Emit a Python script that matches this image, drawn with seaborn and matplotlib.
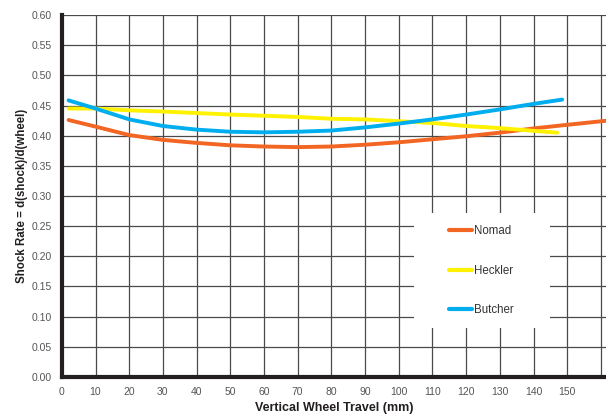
import pandas as pd
import seaborn as sns
import matplotlib.pyplot as plt
from matplotlib.patches import Rectangle

# wheel travel (mm) and shock rate readings, per bike
nomad_x = [2, 10, 20, 30, 40, 50, 60, 70, 80, 90, 100, 110, 120, 130, 140, 150, 162]
nomad_y = [0.426, 0.415, 0.401, 0.393, 0.388, 0.384, 0.382, 0.381, 0.382, 0.385,
           0.389, 0.394, 0.399, 0.405, 0.412, 0.418, 0.425]

heckler_x = [2, 10, 20, 30, 40, 50, 60, 70, 80, 90, 100, 110, 120, 130, 140, 147]
heckler_y = [0.445, 0.445, 0.442, 0.440, 0.4375, 0.435, 0.433, 0.431, 0.428, 0.427,
             0.424, 0.421, 0.416, 0.4125, 0.408, 0.405]

butcher_x = [2, 10, 20, 30, 40, 50, 60, 70, 80, 90, 100, 110, 120, 130, 140, 148.5]
butcher_y = [0.4585, 0.445, 0.427, 0.416, 0.41, 0.4065, 0.4055, 0.4065, 0.4085, 0.4137,
             0.420, 0.427, 0.435, 0.4435, 0.4527, 0.4598]

series = ['Nomad', 'Heckler', 'Butcher']
colors = ['#f26522', '#fff200', '#00aeef']

df = pd.concat([
    pd.DataFrame({'travel': nomad_x, 'rate': nomad_y, 'bike': 'Nomad'}),
    pd.DataFrame({'travel': heckler_x, 'rate': heckler_y, 'bike': 'Heckler'}),
    pd.DataFrame({'travel': butcher_x, 'rate': butcher_y, 'bike': 'Butcher'}),
])

sns.set_style('white')
plt.rcParams['font.family'] = ['Liberation Sans', 'DejaVu Sans']

fig = plt.figure(figsize=(6.06, 4.17), dpi=100)
ax = fig.add_axes([0.102, 0.096, 0.898, 0.868])

sns.lineplot(data=df, x='travel', y='rate', hue='bike', hue_order=series,
             palette=colors, linewidth=2.8, ax=ax, legend=False, zorder=3)

ax.set_xlim(0, 161.5)
ax.set_ylim(0, 0.6)
ax.set_xticks(range(0, 161, 10))
ax.set_xticklabels([str(v) if v <= 150 else '' for v in range(0, 161, 10)])
ax.set_yticks([i * 0.05 for i in range(13)])
ax.set_yticklabels(['%.2f' % (i * 0.05) for i in range(13)])
ax.grid(True, color='#4a4a4a', linewidth=0.9)
ax.set_axisbelow(True)

for s in ['top', 'right']:
    ax.spines[s].set_visible(False)
for s in ['left', 'bottom']:
    ax.spines[s].set_linewidth(3)
    ax.spines[s].set_color('#231f20')
    ax.spines[s].set_zorder(4)

ax.tick_params(axis='both', length=3, width=0.8, color='#231f20',
               labelsize=7.5, labelcolor='#555555', pad=4)

ax.set_xlabel('Vertical Wheel Travel (mm)', fontsize=9, fontweight='bold',
              color='#231f20', labelpad=4)
ax.set_ylabel('Shock Rate = d(shock)/d(wheel)', fontsize=8.3, fontweight='bold',
              color='#231f20', labelpad=3)

# white box behind the legend, hiding the grid
ax.add_patch(Rectangle((104.6, 0.081), 40.4, 0.191, facecolor='white',
                       edgecolor='none', zorder=2))

handles = [plt.Line2D([], [], color=c, linewidth=3) for c in colors]
ax.legend(handles, series, loc='center', bbox_to_anchor=(124.5, 0.176),
          bbox_transform=ax.transData, frameon=False, fontsize=8.3,
          handlelength=2.0, handletextpad=0.1, labelspacing=2.4,
          labelcolor='#333333')

plt.savefig('out.png', dpi=100)
